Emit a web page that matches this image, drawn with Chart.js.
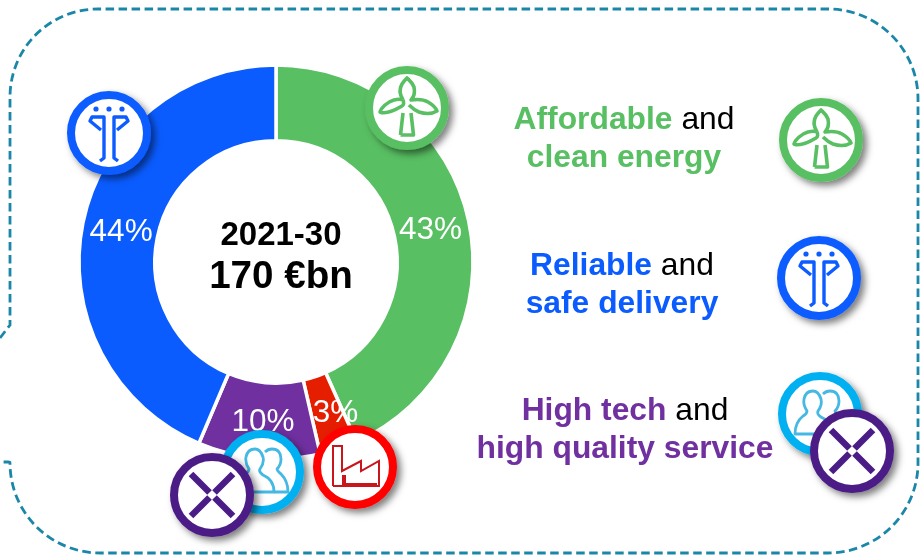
<!DOCTYPE html>
<html><head><meta charset="utf-8">
<script src="https://cdn.jsdelivr.net/npm/chart.js@4/dist/chart.umd.min.js"></script>
<style>
html,body{margin:0;padding:0;background:#fff;width:923px;height:555px;overflow:hidden}
body{position:relative;font-family:"Liberation Sans",Arial,sans-serif}
canvas,svg{position:absolute;left:0;top:0}
.t{position:absolute;text-align:center;white-space:nowrap;transform:translate(-50%,-50%);line-height:1}
b{font-weight:700}
.l{font-size:31.8px;color:#000;line-height:38px}
.g b{color:#59BF63}.bl b{color:#0B5CFF}.p b{color:#7030A0}
</style></head><body>
<canvas id="c" width="923" height="555"></canvas>
<svg width="923" height="555" viewBox="0 0 923 555" xmlns="http://www.w3.org/2000/svg">
<defs>
<filter id="s" x="-30%" y="-30%" width="170%" height="170%"><feDropShadow dx="4" dy="4" stdDeviation="3.5" flood-color="#000" flood-opacity=".5"/></filter>
<g id="ring"><circle r="38" fill="#fff" stroke-width="8"/></g>
<g id="turbine" fill="none" stroke="#59BF63" stroke-width="3.6" stroke-linejoin="round">
<path d="M-6.5 27L-4 5M4 5L6.5 27H-6.5"/>
<path d="M-4 -8C-7 -13 -8 -19 -5 -24C-3 -27 -1 -29 0 -30C2 -28 5 -26 7 -21C8 -16 7 -11 4 -8C10 -9 16 -9 21 -6C26 -3 29 0 30 3C25 6 18 6 12 4C7 2 4 -1 2 -3M-4 -8C-3 -6 -3 -3 -5 -2C-10 1 -20 7 -27 4C-26 0 -20 -6 -13 -8C-9 -9 -6 -9 -4 -8"/>
</g>
<g id="tee" fill="none" stroke="#0B5CFF" stroke-width="3.4" stroke-linejoin="round">
<circle cx="-13" cy="-24" r="2.6" fill="#0B5CFF" stroke="none"/><circle cx="0" cy="-24" r="2.6" fill="#0B5CFF" stroke="none"/><circle cx="13" cy="-24" r="2.6" fill="#0B5CFF" stroke="none"/>
<path d="M-9 28L-5 25V-16H-17L-19 -12L-8 -3"/>
<path d="M9 28L5 25V-16H17L19 -12L8 -3"/>
</g>
<g id="people" fill="none" stroke="#45B8E3" stroke-width="2.8" stroke-linejoin="round">
<path d="M-25 20H12C12 12 8 6 1 3C-2 1 -3 -1 -2 -3C1 -7 2 -11 1 -15C-1 -21 -4 -23 -7 -23C-12 -23 -15 -20 -16 -15C-17 -10 -15 -6 -13 -3C-13 -1 -15 1 -17 2C-22 6 -25 12 -25 20Z"/>
<path d="M3 -20C5 -22 8 -23 10 -23C16 -23 19 -19 19 -13C19 -9 17 -5 15 -3C15 -1 17 0 19 2C23 6 26 12 26 20H12"/>
</g>
<g id="cross" stroke="#4B1F85" stroke-width="6.5" fill="none">
<path d="M-21 -21L-2.5 -2.5M2.5 2.5L21 21M21 -21L2.5 -2.5M-2.5 2.5L-21 21"/>
</g>
<g id="factory" fill="none" stroke="#C8141E" stroke-width="2">
<path d="M-22 19V-21H-13V4L6 -6V4L24 -6V19H-12V9H-10V17H22M-22 19H-12"/>
</g>
</defs>
<path d="M0 338L10 325V98A88 88 0 0 1 98 9H828A90 90 0 0 1 918 99V463A90 90 0 0 1 828 553H100A90 90 0 0 1 10 463Q10 462 8 462H0" fill="none" stroke="#1A86A8" stroke-width="2.8" stroke-dasharray="8.5 4.5"/>
<g filter="url(#s)" transform="translate(407,108)"><use href="#ring" stroke="#59BF63"/><use href="#turbine"/></g>
<g filter="url(#s)" transform="translate(109,133)"><use href="#ring" stroke="#0B5CFF"/><use href="#tee"/></g>
<g filter="url(#s)" transform="translate(262,472)"><use href="#ring" stroke="#00B0F0"/><use href="#people"/></g>
<g filter="url(#s)" transform="translate(212,495)"><use href="#ring" stroke="#4B1F85"/><use href="#cross"/></g>
<g filter="url(#s)" transform="translate(355,467)"><use href="#ring" stroke="#FF0000"/><use href="#factory"/></g>
<g filter="url(#s)" transform="translate(821,140)"><use href="#ring" stroke="#59BF63"/><use href="#turbine"/></g>
<g filter="url(#s)" transform="translate(819,278)"><use href="#ring" stroke="#0B5CFF"/><use href="#tee"/></g>
<g filter="url(#s)" transform="translate(820,414)"><use href="#ring" stroke="#00B0F0"/><use href="#people"/></g>
<g filter="url(#s)" transform="translate(852,451)"><use href="#ring" stroke="#4B1F85"/><use href="#cross"/></g>
</svg>
<div class="t" style="left:281px;top:233px;font-size:33px;font-weight:700">2021-30</div>
<div class="t" style="left:281px;top:275px;font-size:38.6px;font-weight:700">170 €bn</div>
<div class="t l g" style="left:624px;top:137px"><b>Affordable</b> and<br><b>clean energy</b></div>
<div class="t l bl" style="left:622px;top:283px"><b>Reliable</b> and<br><b>safe delivery</b></div>
<div class="t l p" style="left:625px;top:428px"><b>High tech</b> and<br><b>high quality service</b></div>
<script>
const categories = ["Affordable and clean energy", "Industrial", "High tech and high quality service", "Reliable and safe delivery"];
const shares = [43.3, 3.1, 10.0, 43.6];
const sliceColors = ["#59BF63", "#E61E00", "#7030A0", "#0B5CFF"];
const sliceLabels = ["43%", "3%", "10%", "44%"];

const labelPlugin = {
  id: "sliceLabels",
  afterDatasetsDraw(chart) {
    const ctx = chart.ctx;
    ctx.save();
    ctx.font = '31.5px "Liberation Sans", Arial, sans-serif';
    ctx.fillStyle = "#fff";
    ctx.textAlign = "center";
    ctx.textBaseline = "middle";
    const nudge = [[-1, 0], [9, -2], [1, 0], [1, 0]];
    chart.getDatasetMeta(0).data.forEach((arc, i) => {
      const mid = (arc.startAngle + arc.endAngle) / 2;
      const r = (arc.innerRadius + arc.outerRadius) / 2;
      ctx.fillText(sliceLabels[i], arc.x + Math.cos(mid) * r + nudge[i][0], arc.y + Math.sin(mid) * r + 2 + nudge[i][1]);
    });
    ctx.restore();
  }
};

new Chart(document.getElementById("c"), {
  type: "doughnut",
  data: { labels: categories, datasets: [{ data: shares, backgroundColor: sliceColors, borderColor: "#fff", borderWidth: 3.5, borderAlign: "center" }] },
  options: {
    responsive: false, animation: false, radius: 197, cutout: "61.5%",
    layout: { padding: { left: 0, top: 0, right: 371, bottom: 31 } },
    plugins: { legend: { display: false }, tooltip: { enabled: false } }
  },
  plugins: [labelPlugin]
});
</script>
</body></html>
